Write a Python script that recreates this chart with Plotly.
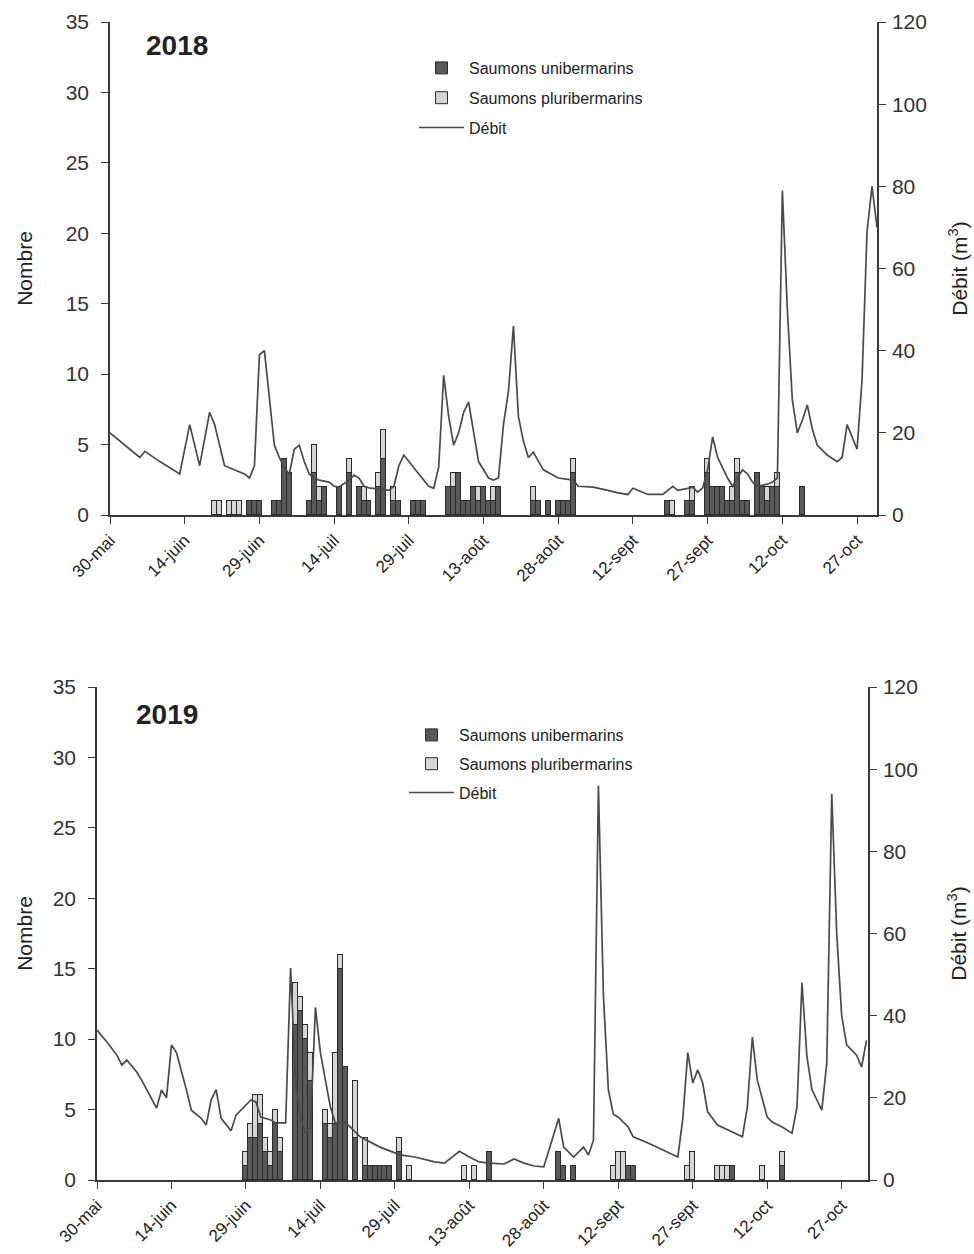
import plotly.graph_objects as go

# ---- x axis: days counted from 30 May ----
TICK_DAYS = [0, 15, 30, 45, 60, 75, 90, 105, 120, 135, 150]
TICK_TEXT = ["30-mai", "14-juin", "29-juin", "14-juil", "29-juil", "13-août",
             "28-août", "12-sept", "27-sept", "12-oct", "27-oct"]

# ---- 2018: daily salmon counts ----
days_2018 = [21, 22, 24, 25, 26, 28, 29, 30, 33, 34, 35, 36, 40, 41, 42, 43, 46, 48,
             50, 51, 52, 54, 55, 57, 58, 61, 62, 63, 68, 69, 70, 71, 72, 73, 74, 75,
             76, 77, 78, 85, 86, 88, 90, 91, 92, 93, 112, 113, 116, 117, 120, 121,
             122, 123, 124, 125, 126, 127, 128, 130, 131, 132, 133, 134, 139]
uni_2018 = [0, 0, 0, 0, 0, 1, 1, 1, 1, 1, 4, 3, 1, 3, 1, 2, 2, 3,
            2, 1, 1, 2, 4, 1, 1, 1, 1, 1, 2, 2, 3, 1, 1, 2, 1, 2,
            1, 1, 2, 1, 1, 1, 1, 1, 1, 3, 1, 0, 1, 1, 3, 2,
            2, 2, 1, 1, 3, 1, 1, 3, 2, 1, 2, 2, 2]
pluri_2018 = [1, 1, 1, 1, 1, 0, 0, 0, 0, 0, 0, 0, 0, 2, 1, 0, 0, 1,
              0, 1, 0, 1, 2, 1, 0, 0, 0, 0, 0, 1, 0, 0, 0, 0, 1, 0,
              0, 1, 0, 1, 0, 0, 0, 0, 0, 1, 0, 1, 0, 1, 1, 0,
              0, 0, 0, 1, 1, 0, 0, 0, 0, 1, 0, 1, 0]

# ---- 2018: river discharge ----
flow_days_2018 = [0, 3, 6, 7, 10, 14, 16, 18, 20, 21, 23, 27, 28, 29, 30, 31, 32, 33,
                  34, 35, 36, 37, 38, 39, 40, 41, 42, 44, 45, 46, 48, 49, 50, 51, 52,
                  56, 57, 58, 59, 60, 62, 64, 65, 66, 67, 68, 69, 70, 71, 72, 73, 74,
                  75, 76, 77, 78, 79, 80, 81, 82, 83, 84, 85, 86, 87, 90, 93, 94, 97,
                  100, 102, 104, 105, 108, 110, 111, 113, 114, 116, 117, 118, 119, 120,
                  121, 122, 123, 124, 125, 126, 127, 128, 129, 130, 132, 133, 134, 135,
                  136, 137, 138, 139, 140, 141, 142, 143, 144, 146, 147, 148, 149, 150,
                  151, 152, 153, 154]
flow_2018 = [20, 17, 14, 15.5, 13, 10, 22, 12, 25, 22, 12, 10, 9, 12, 39, 40, 28, 17,
             14, 11.5, 10, 16, 17, 13, 10, 9, 8.5, 8, 7, 6.8, 8.5, 9.7, 9, 7, 6.6,
             6, 7, 12, 14.6, 13, 10, 7, 6.5, 11.7, 34, 24, 17, 20, 25, 27.5, 20, 13,
             11, 9, 8.5, 9, 22, 30, 46, 24, 18, 14, 15.3, 13, 11, 9, 8.5, 7, 6.8,
             6, 5.4, 5, 6.5, 5, 4.9, 5, 7, 6, 6.5, 6.8, 5.6, 6.6, 11,
             19, 14, 11.5, 9, 7, 9, 11, 10, 8, 7, 7.5, 8, 9, 79,
             50, 28, 20, 23, 26.8, 21, 17, 15.8, 14.6, 13, 14, 22, 19, 16,
             33, 69, 80, 70]

# ---- 2019: daily salmon counts ----
days_2019 = [30, 31, 32, 33, 34, 35, 36, 37, 40, 41, 42, 43, 46, 47, 48, 49, 50, 52,
             54, 55, 56, 57, 58, 59, 61, 63, 74, 76, 79, 93, 94, 96, 104, 105, 106,
             107, 108, 119, 120, 125, 126, 127, 128, 134, 138]
uni_2019 = [1, 3, 3, 4, 2, 1, 4, 2, 11, 12, 10, 7, 4, 3, 4, 15, 8, 3,
            1, 1, 1, 1, 1, 1, 2, 0, 0, 0, 2, 2, 1, 1, 0, 0, 0,
            1, 1, 0, 0, 0, 0, 0, 1, 0, 1]
pluri_2019 = [1, 1, 3, 2, 1, 1, 1, 1, 3, 1, 1, 2, 1, 1, 5, 1, 0, 4,
              2, 0, 0, 0, 0, 0, 1, 1, 1, 1, 0, 0, 0, 0, 1, 2, 2,
              0, 0, 1, 2, 1, 1, 1, 0, 1, 1]

# ---- 2019: river discharge ----
flow_days_2019 = [0, 2, 4, 5, 6, 8, 9, 10, 11, 12, 13, 14, 15, 16, 18, 19, 21, 22, 23,
                  24, 25, 27, 28, 30, 31, 32, 33, 35, 36, 38, 39, 40, 41, 42, 43, 44,
                  45, 47, 48, 50, 51, 53, 55, 57, 60, 61, 64, 68, 70, 73, 75, 77, 79,
                  82, 84, 86, 88, 90, 93, 94, 96, 98, 99, 100, 101, 102, 103, 104, 105,
                  107, 108, 111, 114, 117, 118, 119, 120, 121, 122, 123, 125, 127, 128,
                  130, 131, 132, 133, 135, 136, 138, 140, 141, 142, 143, 144, 146, 147,
                  148, 149, 150, 151, 153, 154, 155]
flow_2019 = [36.5, 33.6, 30.4, 28, 29.2, 26.3, 24.3, 21.9, 19.5, 17.5, 21.9, 20, 32.9,
             31, 22, 17, 15, 13.4, 19.5, 22, 15, 12, 15.8, 18.3, 19.5, 19, 15.3, 14.6,
             13.9, 13.9, 51.6, 23.6, 15.3, 11.4, 13, 42, 31, 17.8, 13.9, 13.9, 12.9,
             10.5, 9.3, 8, 6.6, 6.1, 5.6, 4.4, 4.1, 7, 5.6, 4.4, 4.1, 3.9, 5.1, 4.1,
             3.4, 3.2, 15, 8, 5.6, 8, 6.1, 9.7, 96, 45, 22, 16, 15.3, 12.9, 10.5, 9,
             7.3, 5.6, 15, 31, 23.6, 26.8, 23.6, 16.6, 13.4, 12.2, 11.7, 10.5, 17.8,
             34.8, 24.3, 15.3, 14.1, 12.9, 11.4, 17.8, 48, 30, 22, 17, 28.5, 94, 60,
             40, 32.9, 30.4, 27.5, 34]

# ---- styling ----
FONT = "Liberation Sans, Arial, sans-serif"
TXT = "#222222"
AX = "#3a3a3a"
UNI_COLOR = "#595959"
PLURI_COLOR = "#d6d6d6"
EDGE = "#2b2b2b"
LINE_COLOR = "#4a4a4a"
W, H = 974, 1254


def pdom(top_px, bottom_px):
    return [1 - bottom_px / H, 1 - top_px / H]


fig = go.Figure()

panels = [
    dict(days=days_2018, uni=uni_2018, pluri=pluri_2018,
         fdays=flow_days_2018, flow=flow_2018, x="x", yl="y", yr="y2", legend="legend"),
    dict(days=days_2019, uni=uni_2019, pluri=pluri_2019,
         fdays=flow_days_2019, flow=flow_2019, x="x2", yl="y3", yr="y4", legend="legend2"),
]

for p in panels:
    fig.add_trace(go.Bar(
        x=p["days"], y=p["uni"], width=1, name="Saumons unibermarins",
        marker=dict(color=UNI_COLOR, line=dict(color=EDGE, width=1)),
        xaxis=p["x"], yaxis=p["yl"], legend=p["legend"], legendgroup="a" + p["x"]))
    fig.add_trace(go.Bar(
        x=p["days"], y=p["pluri"], width=1, name="Saumons pluribermarins",
        marker=dict(color=PLURI_COLOR, line=dict(color=EDGE, width=1)),
        xaxis=p["x"], yaxis=p["yl"], legend=p["legend"], legendgroup="b" + p["x"]))
    fig.add_trace(go.Scatter(
        x=p["fdays"], y=p["flow"], mode="lines", name="Débit",
        line=dict(color=LINE_COLOR, width=1.7),
        xaxis=p["x"], yaxis=p["yr"], legend=p["legend"], legendgroup="c" + p["x"]))

xcommon = dict(tickmode="array", tickvals=TICK_DAYS, ticktext=TICK_TEXT, tickangle=-45,
               ticks="outside", ticklen=7, tickwidth=1.3, tickcolor=AX,
               showline=True, linecolor=AX, linewidth=1.5, showgrid=False,
               zeroline=False, automargin=False,
               tickfont=dict(family=FONT, size=17, color=TXT))


def left_axis(standoff):
    return dict(range=[0, 35], dtick=5, ticks="outside", ticklen=7, tickwidth=1.3,
                tickcolor=AX, showline=True, linecolor=AX, linewidth=1.5,
                showgrid=False, zeroline=False, automargin=False,
                ticklabelstandoff=8,
                tickfont=dict(family=FONT, size=21, color="#333333"),
                title=dict(text="Nombre", font=dict(family=FONT, size=21, color=TXT),
                           standoff=standoff))


def right_axis(standoff):
    return dict(range=[0, 120], dtick=20, ticks="outside", ticklen=7, tickwidth=1.3,
                tickcolor=AX, showline=True, linecolor=AX, linewidth=1.5,
                showgrid=False, zeroline=False, side="right", automargin=False,
                ticklabelstandoff=2,
                tickfont=dict(family=FONT, size=21, color="#333333"),
                title=dict(text="Débit (m<sup>3</sup>)",
                           font=dict(family=FONT, size=21, color=TXT), standoff=standoff))


fig.update_layout(
    width=W, height=H, margin=dict(l=0, r=0, t=0, b=0),
    paper_bgcolor="white", plot_bgcolor="white",
    barmode="stack", bargap=0,
    font=dict(family=FONT, color=TXT),
    xaxis=dict(xcommon, domain=[110 / W, 877 / W], range=[0, 154], anchor="y"),
    yaxis=dict(left_axis(27), domain=pdom(22, 515), anchor="x"),
    yaxis2=dict(right_axis(26), domain=pdom(22, 515), anchor="x", overlaying="y"),
    xaxis2=dict(xcommon, domain=[97 / W, 868 / W], range=[0, 155.3], anchor="y3"),
    yaxis3=dict(left_axis(14), domain=pdom(687, 1180), anchor="x2"),
    yaxis4=dict(right_axis(34), domain=pdom(687, 1180), anchor="x2", overlaying="y3"),
    legend=dict(x=414 / W, y=1 - 51 / H, xanchor="left", yanchor="top",
                font=dict(family=FONT, size=16, color=TXT), tracegroupgap=6,
                bgcolor="rgba(0,0,0,0)", itemwidth=45, traceorder="grouped"),
    legend2=dict(x=404 / W, y=1 - 718 / H, xanchor="left", yanchor="top",
                 font=dict(family=FONT, size=16, color=TXT), tracegroupgap=5,
                 bgcolor="rgba(0,0,0,0)", itemwidth=45, traceorder="grouped"),
    annotations=[
        dict(text="<b>2018</b>", x=144 / W, y=1 - 45 / H, xref="paper", yref="paper",
             xanchor="left", yanchor="middle", showarrow=False,
             font=dict(family=FONT, size=28, color=TXT)),
        dict(text="<b>2019</b>", x=134 / W, y=1 - 714 / H, xref="paper", yref="paper",
             xanchor="left", yanchor="middle", showarrow=False,
             font=dict(family=FONT, size=28, color=TXT)),
    ],
)

fig.write_html("out.html")
